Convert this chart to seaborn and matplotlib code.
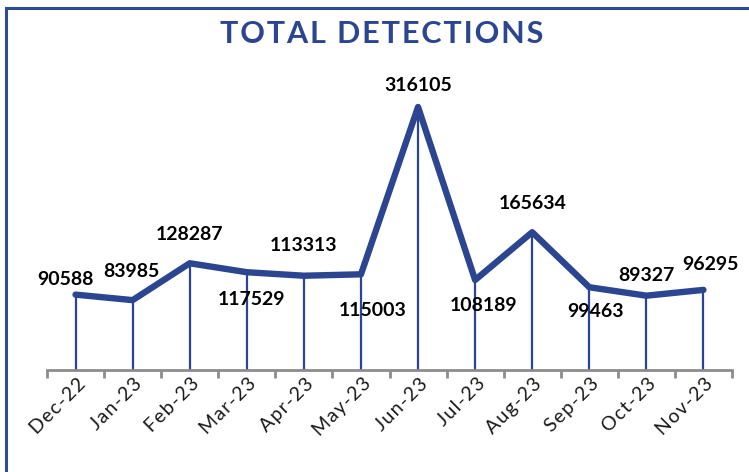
import matplotlib
matplotlib.use("Agg")
import matplotlib.pyplot as plt
import matplotlib.transforms as mtransforms
from matplotlib.patches import Rectangle
import seaborn as sns
import pandas as pd

months = ["Dec-22", "Jan-23", "Feb-23", "Mar-23", "Apr-23", "May-23",
          "Jun-23", "Jul-23", "Aug-23", "Sep-23", "Oct-23", "Nov-23"]
detections = [90588, 83985, 128287, 117529, 113313, 115003,
              316105, 108189, 165634, 99463, 89327, 96295]
title = "TOTAL DETECTIONS"

# label offsets (pixels) relative to each point
label_dx = [-10, -1, 0, 5, 0, 12, 0, 8, 0, 6, 0, 7]
label_dy = [15, 29, 29, -27, 30, -36, 22, -26, 29, -24, 20, 25]

BLUE = "#2B4590"

sns.set_theme(style="white")
plt.rcParams["font.family"] = ["Lato", "DejaVu Sans"]

df = pd.DataFrame({"month": months, "detections": detections})

fig = plt.figure(figsize=(7.49, 4.72), dpi=100)
ax = fig.add_axes([47 / 749, 1 - 370 / 472, (732 - 47) / 749, (370 - 60) / 472])

ax.vlines(range(len(months)), 0, df["detections"], color=BLUE, lw=1.6, zorder=1)
sns.lineplot(data=df, x="month", y="detections", sort=False, color=BLUE,
             lw=4.6, ax=ax, zorder=2)

for i, v in enumerate(detections):
    ax.annotate(str(v), (i, v), xytext=(label_dx[i], label_dy[i]),
                textcoords="offset pixels", ha="center", va="center",
                fontsize=14, fontweight="bold", color="black", zorder=3)

ax.set_xlim(-0.5, len(months) - 0.5)
ax.set_ylim(0, 372600)
ax.set_xlabel("")
ax.set_ylabel("")
ax.set_yticks([])
for s in ["left", "right", "top"]:
    ax.spines[s].set_visible(False)
ax.spines["bottom"].set_color("#8C8C8C")
ax.spines["bottom"].set_linewidth(2)

ax.set_xticks([i - 0.5 for i in range(len(months) + 1)], minor=False)
ax.set_xticklabels([""] * (len(months) + 1))
ax.tick_params(axis="x", which="major", direction="out", length=6, width=2,
               color="#8C8C8C", bottom=True)
ax.set_xticks(range(len(months)), minor=True)
ax.set_xticklabels(["\u200a".join(m) for m in months], minor=True)
ax.tick_params(axis="x", which="minor", length=0, pad=8, labelsize=14,
               labelcolor="#1a1a1a")
offset = mtransforms.ScaledTranslation(7 / 100, 0, fig.dpi_scale_trans)
for lbl in ax.get_xticklabels(minor=True):
    lbl.set_rotation(45)
    lbl.set_ha("right")
    lbl.set_va("center")
    lbl.set_rotation_mode("anchor")
    lbl.set_transform(lbl.get_transform() + offset)

fig.text(0.509, 1 - 34 / 472, "\u200a".join(title), ha="center", va="center",
         fontsize=22, fontweight="bold", color=BLUE)

fig.patches.append(Rectangle((6 / 749, -0.2), 1.2, 1 - 8 / 472 + 0.2,
                             transform=fig.transFigure, fill=False,
                             edgecolor="#2E4A9A", lw=2.2, clip_on=False))

fig.savefig("out.png", dpi=100)
